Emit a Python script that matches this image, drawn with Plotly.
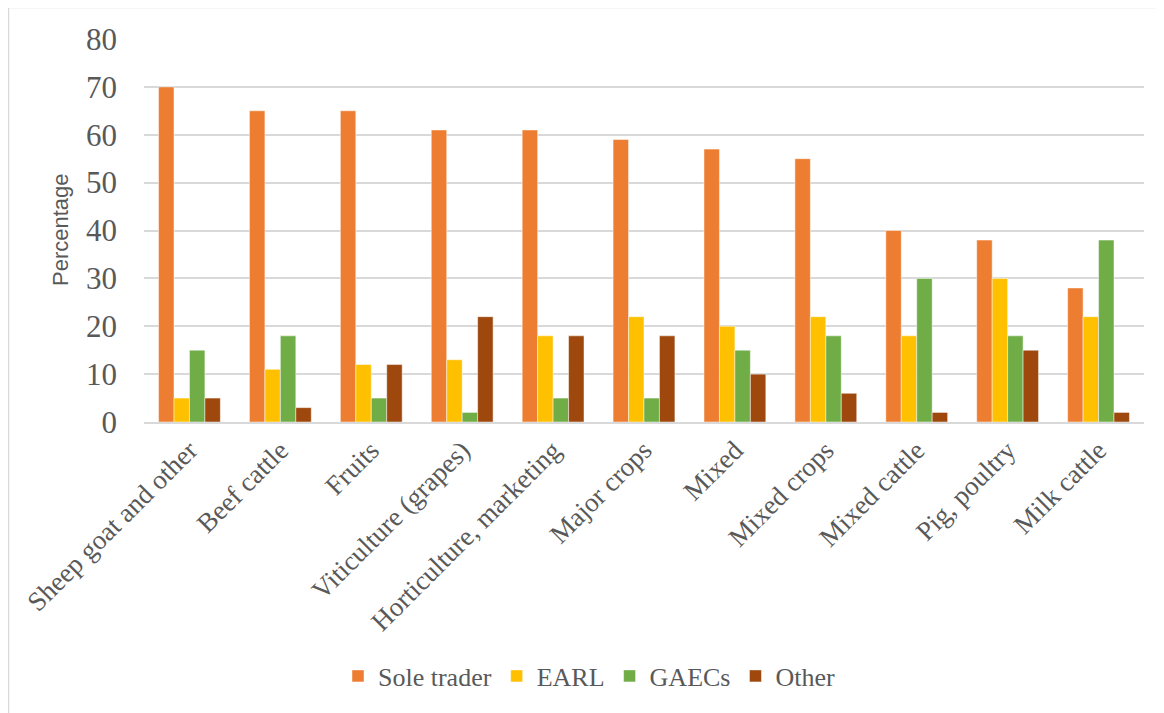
import plotly.graph_objects as go

categories = ["Sheep goat and other", "Beef cattle", "Fruits", "Viticulture (grapes)",
              "Horticulture, marketing", "Major crops", "Mixed", "Mixed crops",
              "Mixed cattle", "Pig, poultry", "Milk cattle"]
sole_trader = [70, 65, 65, 61, 61, 59, 57, 55, 40, 38, 28]
earl = [5, 11, 12, 13, 18, 22, 20, 22, 18, 30, 22]
gaecs = [15, 18, 5, 2, 5, 5, 15, 18, 30, 18, 38]
other = [5, 3, 12, 22, 18, 18, 10, 6, 2, 15, 2]
series_names = ["Sole trader", "EARL", "GAECs", "Other"]
colors = ["#ED7D31", "#FFC000", "#70AD47", "#9E480E"]

fig = go.Figure()
for name, vals, col in zip(series_names, [sole_trader, earl, gaecs, other], colors):
    fig.add_trace(go.Bar(x=categories, y=vals, name=name,
                         marker=dict(color=col, line=dict(color="rgba(255,255,255,0.6)", width=0.8))))

# page has an 8px body margin: figure origin sits at screen (8, 8)
OFF = 8
W, H = 1164 - OFF, 713 - OFF
L, R, T, B = 144 - OFF, 20, 39 - OFF, 291
pw, ph = W - L - R, H - T - B

def px(sx):
    return (sx - OFF - L) / pw

def py(sy):
    return (H - B - (sy - OFF)) / ph

SERIF = "Liberation Serif, Times New Roman, serif"

fig.update_layout(
    width=W, height=H,
    margin=dict(l=L, r=R, t=T, b=B, autoexpand=False),
    paper_bgcolor="white", plot_bgcolor="white",
    barmode="group", bargap=0.32, bargroupgap=0,
    font=dict(family=SERIF, color="#595959"),
    legend=dict(orientation="h", x=px(338), xanchor="left", y=py(676), yanchor="middle",
                font=dict(family=SERIF, size=26, color="#595959"),
                traceorder="normal", itemwidth=30),
    xaxis=dict(tickangle=-45, tickfont=dict(family=SERIF, size=27, color="#595959"),
               showline=True, linecolor="#D9D9D9", linewidth=1.5, ticks="", showgrid=False),
    yaxis=dict(range=[0, 80], dtick=10, tickfont=dict(family=SERIF, size=31, color="#595959"),
               showgrid=True, gridcolor="#D9D9D9", gridwidth=1.5, zeroline=False, ticks="",
               ticklabelstandoff=26),
    shapes=[
        dict(type="line", xref="paper", yref="paper", x0=px(8), x1=px(1164), y0=py(7.5), y1=py(7.5),
             line=dict(color="#D9D9D9", width=1.5)),
        dict(type="line", xref="paper", yref="paper", x0=px(8.5), x1=px(8.5), y0=py(7), y1=py(713),
             line=dict(color="#D9D9D9", width=1.5)),
    ],
    annotations=[
        dict(text="Percentage", xref="paper", yref="paper", x=px(60), y=py(230),
             showarrow=False, textangle=-90, xanchor="center", yanchor="middle",
             font=dict(family="Liberation Sans", size=22, color="#595959")),
    ],
)

fig.write_html("out.html")
